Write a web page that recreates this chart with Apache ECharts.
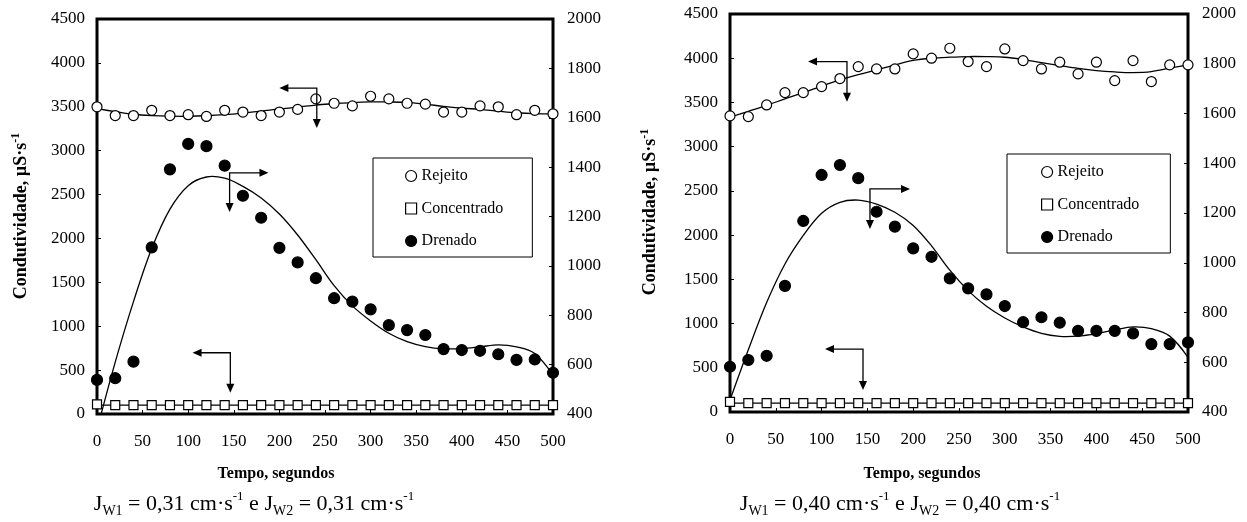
<!DOCTYPE html>
<html><head><meta charset="utf-8">
<script src="https://cdn.jsdelivr.net/npm/echarts@6/dist/echarts.min.js"></script>
<style>html,body{margin:0;padding:0;background:#fff}#c{width:1247px;height:522px}</style>
</head><body><div id="c"></div>
<script>
// ---- data (tempo in seconds) ----
const tempo = [0,20,40,60,80,100,120,140,160,180,200,220,240,260,280,300,320,340,360,380,400,420,440,460,480,500];
const seriesNames = ['Rejeito','Concentrado','Drenado'];

// Panel 1 : Jw1 = Jw2 = 0,31
const rejeito1      = [3500,3400,3400,3460,3400,3410,3390,3460,3440,3400,3440,3470,3590,3540,3510,3620,3590,3540,3530,3440,3440,3510,3500,3410,3460,3420];
const rejeitoFit1   = [3478,3445,3415,3400,3393,3392,3398,3410,3428,3450,3475,3495,3520,3535,3548,3555,3555,3550,3530,3505,3485,3470,3450,3432,3422,3420];
const concentrado1  = [110,100,100,100,100,100,100,100,100,100,100,100,100,100,100,100,100,100,100,100,100,100,100,100,100,100];
const concentradoFit1 = [100,100,100,100,100,100,100,100,100,100,100,100,100,100,100,100,100,100,100,100,100,100,100,100,100,100];
const drenado1      = [538,545,612,1075,1391,1494,1485,1406,1284,1195,1073,1014,950,869,855,824,760,740,720,663,659,656,642,619,621,567];
const drenadoFit1   = [336,610,855,1070,1230,1325,1360,1355,1322,1275,1210,1125,1025,920,838,777,727,693,673,664,665,672,680,672,645,558];
// arrows: [corner tempo, corner value (left axis), horizontal tip tempo, vertical tip value]
const arrows1 = [[241,3713,200,3258],[145.4,2748,188,2301],[146.2,698,104.8,243]];

// Panel 2 : Jw1 = Jw2 = 0,40
const rejeito2      = [3348,3340,3472,3611,3611,3679,3770,3905,3879,3879,4049,4000,4113,3962,3905,4105,3973,3879,3955,3823,3955,3747,3973,3736,3925,3925];
const rejeitoFit2   = [3333,3400,3468,3540,3610,3685,3755,3815,3868,3925,3975,4000,4012,4019,4018,4011,3985,3950,3917,3885,3860,3845,3838,3849,3887,3925];
const concentrado2  = [115,100,100,100,100,100,100,100,100,100,100,100,100,100,100,100,100,100,100,100,100,100,100,100,100,100];
const concentradoFit2 = [100,100,100,100,100,100,100,100,100,100,100,100,100,100,100,100,100,100,100,100,100,100,100,100,100,100];
const drenado2      = [582,609,626,907,1168,1353,1393,1340,1205,1145,1058,1024,937,897,873,826,761,781,759,726,726,726,716,673,673,680];
const drenadoFit2   = [448,650,840,995,1110,1199,1243,1252,1236,1203,1150,1068,970,888,825,778,742,716,704,705,715,730,742,735,705,620];
const arrows2 = [[127.7,3962,85.2,3509],[152.8,2522,196.5,2070],[145.2,712,103.7,249]];

const leftTicks = {min:0, max:4500, interval:500};
const rightTicks = {min:400, max:2000, interval:200};
const xTicks = {min:0, max:500, interval:50};

// ---- styles ----
const FF = '"Liberation Serif","Times New Roman",serif';
const zip = (xs, ys) => xs.map((x,i)=>[x, ys[i]]);
const plain = v => String(v);

function xAxisCfg(grid){
  return {type:'value', gridIndex:grid, min:xTicks.min, max:xTicks.max, interval:xTicks.interval,
    axisLine:{show:false}, splitLine:{show:false},
    axisTick:{show:true, inside:true, length:4, lineStyle:{color:'#000', width:1}},
    axisLabel:{margin:19, color:'#000', fontFamily:FF, fontSize:17, formatter:plain}};
}
function yAxisCfg(grid, t, pos, margin){
  return {type:'value', gridIndex:grid, position:pos, min:t.min, max:t.max, interval:t.interval,
    axisLine:{show:false}, splitLine:{show:false},
    axisTick:{show:true, inside:true, length:4, lineStyle:{color:'#000', width:1}},
    axisLabel:{margin:margin, color:'#000', fontFamily:FF, fontSize:17, formatter:plain}};
}
// fitted trend curve: smooth bezier through read points, positioned by the axes
function fitLine(name, xi, yi, data){
  return {name:name, type:'custom', xAxisIndex:xi, yAxisIndex:yi, data:data, clip:true, silent:true, z:2,
    renderItem:function(params, api){
      if (params.dataIndex !== 0) return null;
      const pts = data.map(d => api.coord(d));
      return {type:'polyline', shape:{points:pts, smooth:0.35},
        style:{stroke:'#000', lineWidth:1.3, fill:null}};
    }};
}
function scatter(name, xi, yi, data, sym, size, fill){
  return {name:name, type:'scatter', xAxisIndex:xi, yAxisIndex:yi, data:data, symbol:sym, symbolSize:size, z:4,
    itemStyle:{color:fill, borderColor:'#000', borderWidth:1.2, opacity:1}};
}
function arrowSeries(xi, yi, data){
  return {type:'custom', xAxisIndex:xi, yAxisIndex:yi, data:data, z:5, silent:true,
    renderItem:function(params, api){
      const c = api.coord([api.value(0), api.value(1)]);
      const h = api.coord([api.value(2), api.value(1)]);
      const v = api.coord([api.value(0), api.value(3)]);
      const s = h[0] > c[0] ? 1 : -1;
      const L = 9, W = 4;
      return {type:'group', children:[
        {type:'polyline', shape:{points:[[h[0]-s*L+s, c[1]],[c[0], c[1]],[c[0], v[1]-L+1]]},
          style:{stroke:'#000', lineWidth:1.3, fill:null}},
        {type:'polygon', shape:{points:[[h[0], c[1]],[h[0]-s*L, c[1]-W],[h[0]-s*L, c[1]+W]]}, style:{fill:'#000'}},
        {type:'polygon', shape:{points:[[c[0], v[1]],[c[0]-W, v[1]-L],[c[0]+W, v[1]-L]]}, style:{fill:'#000'}}
      ]};
    }};
}
function panelSeries(xi, yl, yr, rej, rejFit, conc, concFit, dren, drenFit, arrows){
  return [
    fitLine('Rejeito ajuste', xi, yl, zip(tempo, rejFit)),
    fitLine('Concentrado ajuste', xi, yl, zip(tempo, concFit)),
    fitLine('Drenado ajuste', xi, yr, zip(tempo, drenFit)),
    scatter(seriesNames[0], xi, yl, zip(tempo, rej), 'circle', 10, '#fff'),
    scatter(seriesNames[1], xi, yl, zip(tempo, conc), 'rect', 9, '#fff'),
    scatter(seriesNames[2], xi, yr, zip(tempo, dren), 'circle', 11, '#000'),
    arrowSeries(xi, yl, arrows)
  ];
}
function legendCfg(left, top, padding){
  return {data:seriesNames, orient:'vertical', left:left, top:top, padding:padding,
    itemWidth:11, itemHeight:11, itemGap:16.5, borderColor:'#000', borderWidth:1, backgroundColor:'#fff',
    selectedMode:false, itemStyle:{borderWidth:1.2},
    textStyle:{fontFamily:FF, fontSize:16, color:'#000'}};
}
const supRich = {
  m:{fontFamily:FF, fontSize:22, lineHeight:28, fill:'#000'},
  s:{fontFamily:FF, fontSize:14, lineHeight:18, verticalAlign:'bottom', fill:'#000'},
  p:{fontFamily:FF, fontSize:13, lineHeight:16, verticalAlign:'top', fill:'#000'}
};
const yRich = {
  m:{fontFamily:FF, fontSize:18, fontWeight:'bold', lineHeight:22, fill:'#000'},
  p:{fontFamily:FF, fontSize:12, fontWeight:'bold', lineHeight:14, verticalAlign:'top', fill:'#000'}
};
function subtitle(x, y, val){
  return {type:'text', x:x, y:y, style:{text:'{m|J}{s|W1}{m| = '+val+' cm·s}{p|-1}{m| e J}{s|W2}{m| = '+val+' cm·s}{p|-1}',
    rich:supRich, align:'center', verticalAlign:'middle'}};
}
function yTitle(x, y){
  return {type:'text', x:x, y:y, rotation:Math.PI/2, style:{text:'{m|Condutividade, µS·s}{p|-1}', rich:yRich,
    align:'center', verticalAlign:'middle'}};
}
function xTitle(x, y){
  return {type:'text', x:x, y:y, style:{text:'Tempo, segundos', font:'bold 16px '+FF, fill:'#000',
    align:'center', verticalAlign:'middle'}};
}

const chart = echarts.init(document.getElementById('c'), null, {renderer:'canvas'});
chart.setOption({
  backgroundColor:'#fff',
  animation:false,
  grid:[
    {left:97, top:19, width:456, height:395, show:true, borderColor:'#000', borderWidth:3, backgroundColor:'transparent'},
    {left:730, top:14, width:458, height:398, show:true, borderColor:'#000', borderWidth:3, backgroundColor:'transparent'}
  ],
  xAxis:[xAxisCfg(0), xAxisCfg(1)],
  yAxis:[yAxisCfg(0,leftTicks,'left',12), yAxisCfg(0,rightTicks,'right',14),
         yAxisCfg(1,leftTicks,'left',12), yAxisCfg(1,rightTicks,'right',14)],
  legend:[legendCfg(373,158,[10,29,8,32]), legendCfg(1007,154,[10,31,8,34])],
  series:[].concat(
    panelSeries(0,0,1,rejeito1,rejeitoFit1,concentrado1,concentradoFit1,drenado1,drenadoFit1,arrows1),
    panelSeries(1,2,3,rejeito2,rejeitoFit2,concentrado2,concentradoFit2,drenado2,drenadoFit2,arrows2)
  ),
  graphic:[
    yTitle(21,216), yTitle(650,212),
    xTitle(276,474), xTitle(922,474),
    subtitle(254,504,'0,31'), subtitle(900,504,'0,40')
  ]
});
</script></body></html>
